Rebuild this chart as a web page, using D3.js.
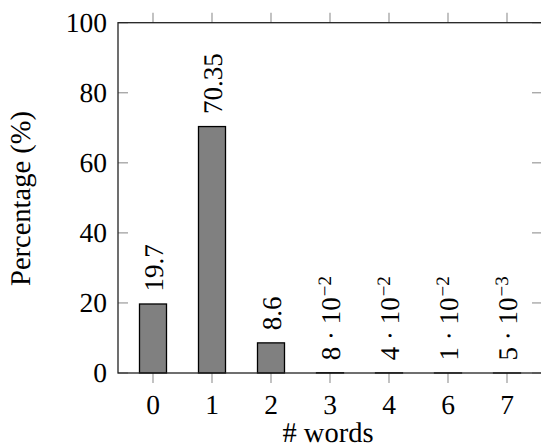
<!DOCTYPE html>
<html>
<head>
<meta charset="utf-8">
<script src="https://cdn.jsdelivr.net/npm/d3@7"></script>
<style>
  @font-face { font-family: "RomanLocal"; src: local("Liberation Serif"), local("LiberationSerif"), local("Liberation Serif Regular"), local("LiberationSerif-Regular"); }
  body { margin: 0; background: #fff; }
  svg, text, tspan { font-family: "Liberation Serif", "DejaVu Serif", serif; fill: #000; text-rendering: geometricPrecision; }
  .rot, .rot tspan { font-family: "RomanLocal", "Liberation Serif", serif; }
</style>
</head>
<body>
<div id="chart"></div>
<script>
// Data
//-------------------------------------------------------
var categories = ["0", "1", "2", "3", "4", "6", "7"];
var percentages = [19.7, 70.35, 8.6, 0.08, 0.04, 0.01, 0.005];
var yTicks = [0, 20, 40, 60, 80, 100];

// Set up SVG and Chart group
//-------------------------------------------------------
var svgWidth = 541;
var svgHeight = 443;

var margin = {
    top: 22.7,
    right: -1,
    bottom: 70,
    left: 118
};

var chartWidth = svgWidth - margin.left - margin.right;
var chartHeight = 373 - margin.top;

var svg = d3.select("#chart")
    .append("svg")
    .attr("width", svgWidth)
    .attr("height", svgHeight);

var chartGroup = svg.append("g")
    .attr("transform", `translate(${margin.left}, ${margin.top})`);

// Scales
//-------------------------------------------------------
var xScale = d3.scalePoint()
    .domain(categories)
    .range([35, chartWidth - 35]);

var yScale = d3.scaleLinear()
    .domain([0, 100])
    .range([chartHeight, 0]);

var barWidth = 27;
var tickFont = 27.5;
var labelFont = 27;
var titleFont = 28.5;
var tickColor = "#9a9a9a";

// pgfplots-like number format for the bar labels
function labelParts(v) {
    if (v >= 0.1) return { main: String(v), exp: null };
    var e = Math.floor(Math.log10(v));
    var m = Math.round(v / Math.pow(10, e));
    return { main: m + " \u00b7 10", exp: "\u2212" + (-e) };
}

// Ticks (y inside, x outside, mirrored)
//-------------------------------------------------------
yTicks.forEach(function(t) {
    chartGroup.append("line")
        .attr("x1", 0).attr("x2", 10)
        .attr("y1", yScale(t)).attr("y2", yScale(t))
        .attr("stroke", tickColor).attr("stroke-width", 1.2);
    chartGroup.append("line")
        .attr("x1", chartWidth - 10).attr("x2", chartWidth)
        .attr("y1", yScale(t)).attr("y2", yScale(t))
        .attr("stroke", tickColor).attr("stroke-width", 1.2);
    chartGroup.append("text")
        .attr("x", -11)
        .attr("y", yScale(t))
        .attr("dy", "0.33em")
        .attr("text-anchor", "end")
        .style("font-size", tickFont + "px")
        .text(t);
});

categories.forEach(function(c) {
    chartGroup.append("line")
        .attr("x1", xScale(c)).attr("x2", xScale(c))
        .attr("y1", chartHeight).attr("y2", chartHeight + 10)
        .attr("stroke", tickColor).attr("stroke-width", 1.2);
    chartGroup.append("line")
        .attr("x1", xScale(c)).attr("x2", xScale(c))
        .attr("y1", 0).attr("y2", -10)
        .attr("stroke", tickColor).attr("stroke-width", 1.2);
    chartGroup.append("text")
        .attr("x", xScale(c))
        .attr("y", chartHeight + 41)
        .attr("text-anchor", "middle")
        .style("font-size", tickFont + "px")
        .text(c);
});

// Bars
//-------------------------------------------------------
chartGroup.selectAll("rect.bar")
    .data(percentages)
    .enter()
    .append("rect")
    .attr("class", "bar")
    .attr("x", (d, i) => xScale(categories[i]) - barWidth / 2)
    .attr("y", d => yScale(d))
    .attr("width", barWidth)
    .attr("height", d => chartHeight - yScale(d))
    .attr("fill", "#808080")
    .attr("stroke", "#000")
    .attr("stroke-width", 1.3);

// Bar labels, rotated
var labels = chartGroup.selectAll("text.bar-label")
    .data(percentages)
    .enter()
    .append("text")
    .attr("class", "bar-label rot")
    .attr("transform", (d, i) => `translate(${xScale(categories[i])}, ${yScale(d) - 12.5}) rotate(-90)`)
    .attr("dy", "0.36em")
    .attr("text-anchor", "start")
    .style("font-size", labelFont + "px");

labels.each(function(d) {
    var p = labelParts(d);
    var t = d3.select(this);
    t.append("tspan").text(p.main);
    if (p.exp) {
        t.append("tspan")
            .attr("dy", "-0.45em")
            .attr("dx", "1")
            .style("font-size", (labelFont * 0.7) + "px")
            .text(p.exp);
    }
});

// Axis frame
//-------------------------------------------------------
chartGroup.append("rect")
    .attr("x", 0).attr("y", 0)
    .attr("width", chartWidth).attr("height", chartHeight)
    .attr("fill", "none")
    .attr("stroke", "#222")
    .attr("stroke-width", 1.3);

// Axis titles
//-------------------------------------------------------
svg.append("text")
    .attr("class", "rot")
    .attr("transform", `translate(30, 198.5) rotate(-90)`)
    .attr("text-anchor", "middle")
    .style("font-size", titleFont + "px")
    .text("Percentage (%)");

svg.append("text")
    .attr("x", 328)
    .attr("y", 442)
    .attr("text-anchor", "middle")
    .style("font-size", titleFont + "px")
    .text("# words");
</script>
</body>
</html>
